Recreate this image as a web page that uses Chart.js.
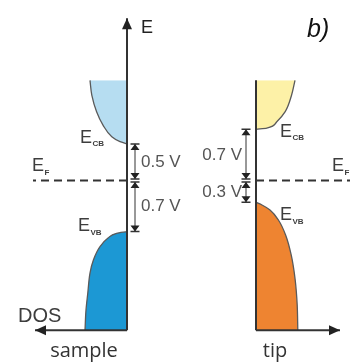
<!DOCTYPE html>
<html lang="en">
<head>
<meta charset="UTF-8">
<title>Band alignment - sample / tip</title>
<script src="https://cdn.jsdelivr.net/npm/chart.js"></script>
<style>
    body { margin: 0; background: #ffffff; }
    .wrap { position: relative; width: 350px; height: 363px; }
</style>
</head>
<body>
<div class="wrap"><canvas id="bands"></canvas></div>
<script>
    // energies in V, relative to the Fermi level
    const fermiLevel = 0;
    const sampleEdges = [0.5, -0.7];   // [E_CB, E_VB]
    const tipEdges = [0.7, -0.3];      // [E_CB, E_VB]
    const bandTop = 1.37;              // where the CB drawing is cut
    const bandBottom = -2.05;          // level of the DOS axes
    const axisTop = 2.22;              // tip of the E arrow

    // DOS curves (dos in arbitrary units)
    const sampleCbE   = [0.5, 0.53, 0.598, 0.758, 0.941, 1.169, 1.37];
    const sampleCbDos = [0, 0.175, 0.38, 0.6, 0.76, 0.88, 0.925];
    const sampleVbE   = [-0.7, -0.724, -0.789, -0.908, -1.09, -1.268, -1.542, -1.775, -2.05];
    const sampleVbDos = [0, 0.26, 0.475, 0.675, 0.84, 0.925, 0.98, 1.025, 1.05];
    const tipCbE      = [0.7, 0.717, 0.804, 0.941, 1.169, 1.37];
    const tipCbDos    = [0, 0.27, 0.52, 0.73, 0.89, 0.975];
    const tipVbE      = [-0.3, -0.337, -0.405, -0.542, -0.747, -1.021, -1.363, -1.705, -2.05];
    const tipVbDos    = [0, 0.15, 0.35, 0.56, 0.74, 0.88, 0.98, 1.03, 1.045];

    const colors = {
        sampleCb: '#b6ddf1',
        sampleVb: '#1c98d4',
        tipCb: '#fdf1a7',
        tipVb: '#ee8431',
        edge: '#5a5a5a',
        axis: '#333333',
        text: '#3d3d3d'
    };

    const xy = (xs, ys) => xs.map((x, i) => ({ x: x, y: ys[i] }));

    // curve filled sideways to the energy axis (dos = 0)
    function bandSet(axisId, dos, e, color) {
        return {
            xAxisID: axisId,
            data: xy(dos, e),
            showLine: true,
            fill: { value: 0 },
            cubicInterpolationMode: 'monotone',
            backgroundColor: color,
            borderColor: colors.edge,
            borderWidth: 1.3
        };
    }

    function lineSet(axisId, data, dash) {
        return {
            xAxisID: axisId,
            data: data,
            showLine: true,
            fill: false,
            borderColor: colors.axis,
            borderWidth: 2,
            borderDash: dash || []
        };
    }

    // E with subscript
    function label(ctx, x, y, sub) {
        ctx.font = '18px "Liberation Sans", Arial, sans-serif';
        ctx.fillStyle = colors.text;
        ctx.textAlign = 'left';
        ctx.textBaseline = 'middle';
        ctx.fillText('E', x, y);
        const w = ctx.measureText('E').width;
        ctx.font = 'bold 8px "Liberation Sans", Arial, sans-serif';
        ctx.fillText(sub, x + w + 0.5, y + 6);
    }

    function arrowHead(ctx, x, y, dir) {
        // dir: 'up' | 'left' | 'right', (x, y) is the tip
        ctx.beginPath();
        ctx.moveTo(x, y);
        if (dir === 'up') { ctx.lineTo(x - 5, y + 11); ctx.lineTo(x + 5, y + 11); }
        if (dir === 'left') { ctx.lineTo(x + 11, y - 5); ctx.lineTo(x + 11, y + 5); }
        if (dir === 'right') { ctx.lineTo(x - 11, y - 5); ctx.lineTo(x - 11, y + 5); }
        ctx.closePath();
        ctx.fill();
    }

    // two-headed measuring arrow with end bars
    function span(ctx, x, y1, y2) {
        ctx.strokeStyle = '#333';
        ctx.fillStyle = '#222';
        ctx.lineWidth = 1;
        ctx.beginPath();
        ctx.moveTo(x, y1);
        ctx.lineTo(x, y2);
        ctx.stroke();
        ctx.lineWidth = 1.5;
        ctx.beginPath();
        ctx.moveTo(x - 4.5, y1); ctx.lineTo(x + 4.5, y1);
        ctx.moveTo(x - 4.5, y2); ctx.lineTo(x + 4.5, y2);
        ctx.stroke();
        ctx.beginPath();
        ctx.moveTo(x, y1); ctx.lineTo(x - 4.5, y1 + 6); ctx.lineTo(x + 4.5, y1 + 6);
        ctx.closePath();
        ctx.moveTo(x, y2); ctx.lineTo(x - 4.5, y2 - 6); ctx.lineTo(x + 4.5, y2 - 6);
        ctx.closePath();
        ctx.fill();
    }

    const annotations = {
        id: 'annotations',
        afterDatasetsDraw(chart) {
            const ctx = chart.ctx;
            const xs = chart.scales.xs, xt = chart.scales.xt, y = chart.scales.y;
            const yp = v => y.getPixelForValue(v);
            const s0 = xs.getPixelForValue(0), t0 = xt.getPixelForValue(0);
            const yF = yp(fermiLevel);

            ctx.save();
            ctx.fillStyle = '#222';
            arrowHead(ctx, s0, yp(axisTop), 'up');
            arrowHead(ctx, xs.getPixelForValue(2.3), yp(bandBottom), 'left');
            arrowHead(ctx, xt.getPixelForValue(2.1), yp(bandBottom), 'right');

            // measuring arrows
            const sx = xs.getPixelForValue(-0.2), tx = xt.getPixelForValue(-0.25);
            span(ctx, sx, yp(sampleEdges[0]), yF - 1.5);
            span(ctx, sx, yF + 1.5, yp(sampleEdges[1]));
            span(ctx, tx, yp(tipEdges[0]), yF - 1.5);
            span(ctx, tx, yF + 1.5, yp(tipEdges[1]));

            ctx.font = '17px "Liberation Sans", Arial, sans-serif';
            ctx.fillStyle = '#555';
            ctx.textBaseline = 'middle';
            ctx.textAlign = 'left';
            ctx.fillText((sampleEdges[0] - fermiLevel).toFixed(1) + ' V', sx + 6, (yp(sampleEdges[0]) + yF) / 2);
            ctx.fillText((fermiLevel - sampleEdges[1]).toFixed(1) + ' V', sx + 6, (yp(sampleEdges[1]) + yF) / 2);
            ctx.textAlign = 'right';
            ctx.fillText((tipEdges[0] - fermiLevel).toFixed(1) + ' V', tx - 4, (yp(tipEdges[0]) + yF) / 2);
            ctx.fillText((fermiLevel - tipEdges[1]).toFixed(1) + ' V', tx - 4, (yp(tipEdges[1]) + yF) / 2 + 1);

            // band labels
            label(ctx, s0 - 47, yp(sampleEdges[0]) - 6, 'CB');
            label(ctx, s0 - 95, yF - 14, 'F');
            label(ctx, s0 - 49, yp(sampleEdges[1]) - 5, 'VB');
            label(ctx, t0 + 24, yp(tipEdges[0]) + 3, 'CB');
            label(ctx, t0 + 76, yF - 14, 'F');
            label(ctx, t0 + 24, yp(tipEdges[1]) + 13, 'VB');

            ctx.fillStyle = '#222';
            ctx.textAlign = 'left';
            ctx.font = '18px "Liberation Sans", Arial, sans-serif';
            ctx.fillText('E', s0 + 14, yp(axisTop) + 10);
            ctx.fillStyle = colors.text;
            ctx.font = '20px "Liberation Sans", Arial, sans-serif';
            ctx.fillText('DOS', 18, yp(bandBottom) - 14);

            ctx.font = 'italic 25px "Liberation Sans", Arial, sans-serif';
            ctx.fillStyle = '#111';
            ctx.textBaseline = 'alphabetic';
            ctx.fillText('b)', 307, 37);

            ctx.font = '20px "Open Sans", sans-serif';
            ctx.fillStyle = '#333';
            ctx.textAlign = 'center';
            ctx.fillText('sample', 84, 357);
            ctx.fillText('tip', 275, 357);
            ctx.restore();
        }
    };

    const ctx = document.getElementById('bands').getContext('2d');
    const bandChart = new Chart(ctx, {
        type: 'scatter',
        data: {
            datasets: [
                lineSet('xs', [{ x: 0, y: bandBottom }, { x: 0, y: axisTop }]),
                lineSet('xs', [{ x: 0, y: bandBottom }, { x: 2.3, y: bandBottom }]),
                lineSet('xt', [{ x: 0, y: bandBottom }, { x: 0, y: bandTop }]),
                lineSet('xt', [{ x: 0, y: bandBottom }, { x: 2.1, y: bandBottom }]),
                lineSet('xs', [{ x: 0, y: fermiLevel }, { x: 2.35, y: fermiLevel }], [8, 5]),
                lineSet('xt', [{ x: 0, y: fermiLevel }, { x: 2.35, y: fermiLevel }], [8, 5]),
                bandSet('xs', sampleCbDos, sampleCbE, colors.sampleCb),
                bandSet('xs', sampleVbDos, sampleVbE, colors.sampleVb),
                bandSet('xt', tipCbDos, tipCbE, colors.tipCb),
                bandSet('xt', tipVbDos, tipVbE, colors.tipVb)
            ]
        },
        options: {
            indexAxis: 'y',
            responsive: true,
            maintainAspectRatio: false,
            animation: false,
            layout: { padding: 0 },
            elements: { point: { radius: 0, hoverRadius: 0 }, line: { tension: 0 } },
            plugins: { legend: { display: false }, tooltip: { enabled: false } },
            scales: {
                // 40 px per DOS unit, sample axis at x = 127, tip axis at x = 256
                xs: { axis: 'x', type: 'linear', reverse: true, min: -5.575, max: 3.175, display: false },
                xt: { axis: 'x', type: 'linear', min: -6.4, max: 2.35, display: false },
                y: { type: 'linear', min: -2.5, max: 2.47, display: false }
            }
        },
        plugins: [annotations]
    });
</script>
</body>
</html>
